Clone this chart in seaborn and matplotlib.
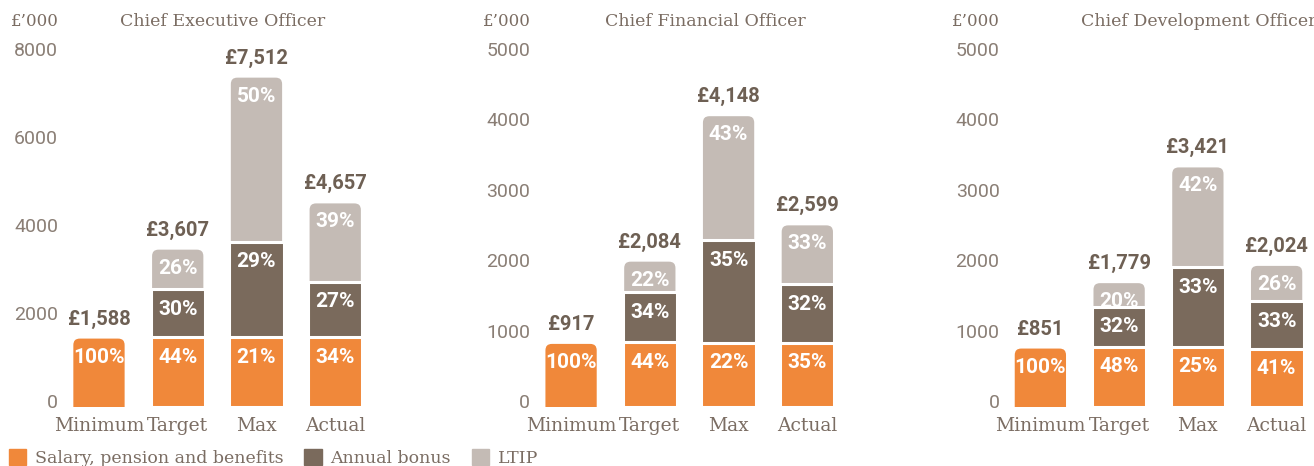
import matplotlib
matplotlib.use("Agg")
import matplotlib.pyplot as plt
import seaborn as sns
import pandas as pd
from matplotlib.patches import FancyBboxPatch, Patch
from matplotlib.transforms import ScaledTranslation

categories = ["Minimum", "Target", "Max", "Actual"]

# £'000 per element
ceo_salary = [1588, 1587, 1578, 1583]
ceo_bonus = [0, 1082, 2178, 1257]
ceo_ltip = [0, 938, 3756, 1817]
ceo_totals = ["£1,588", "£3,607", "£7,512", "£4,657"]
ceo_pct = [["100%", "44%", "21%", "34%"], ["", "30%", "29%", "27%"], ["", "26%", "50%", "39%"]]

cfo_salary = [917, 917, 912, 910]
cfo_bonus = [0, 709, 1452, 832]
cfo_ltip = [0, 458, 1784, 857]
cfo_totals = ["£917", "£2,084", "£4,148", "£2,599"]
cfo_pct = [["100%", "44%", "22%", "35%"], ["", "34%", "35%", "32%"], ["", "22%", "43%", "33%"]]

cdo_salary = [851, 854, 855, 830]
cdo_bonus = [0, 569, 1129, 668]
cdo_ltip = [0, 356, 1437, 526]
cdo_totals = ["£851", "£1,779", "£3,421", "£2,024"]
cdo_pct = [["100%", "48%", "25%", "41%"], ["", "32%", "33%", "33%"], ["", "20%", "42%", "26%"]]

legend_labels = ["Salary, pension and benefits", "Annual bonus", "LTIP"]

sns.set_theme(style="white")
plt.rcParams["font.family"] = ["DejaVu Serif"]

orange = "#f0883a"
brown = "#7a6a5c"
light = "#c4bbb5"
text_col = "#7b6d63"
tick_col = "#8a7e75"
total_col = "#6e6054"

W, H = 1314, 466
fig = plt.figure(figsize=(W / 100, H / 100), dpi=100)

panels = [
    ("Chief Executive Officer", ceo_salary, ceo_bonus, ceo_ltip, ceo_totals, ceo_pct, 8400, 2000, 8000),
    ("Chief Financial Officer", cfo_salary, cfo_bonus, cfo_ltip, cfo_totals, cfo_pct, 5250, 1000, 5000),
    ("Chief Development Officer", cdo_salary, cdo_bonus, cdo_ltip, cdo_totals, cdo_pct, 5250, 1000, 5000),
]
lefts = [59.6, 531.7, 1001.0]
title_x = [120, 605, 1081]
ax_w, ax_h, ax_b = 315.0, 370.0, 59.0

for k, (title, sal, bon, ltip, totals, pcts, ymax, step, ytop) in enumerate(panels):
    ax = fig.add_axes([lefts[k] / W, ax_b / H, ax_w / W, ax_h / H])
    df = pd.DataFrame({"cat": categories, "salary": sal, "bonus": bon, "ltip": ltip})
    df["mid"] = df["salary"] + df["bonus"]
    df["top"] = df["mid"] + df["ltip"]

    # stacked look: draw cumulative heights back to front
    for col, c in [("top", light), ("mid", brown), ("salary", orange)]:
        sns.barplot(data=df, x="cat", y=col, color=c, saturation=1, width=0.69,
                    errorbar=None, edgecolor="white", linewidth=2.2, ax=ax)

    ax.set_xlim(-0.5, 3.5)
    ax.set_ylim(0, ymax)
    px_x = ax_w / 4
    px_y = ax_h / ymax
    rx = 8 / px_x
    ry = 8 / px_y

    layers = [ltip, bon, sal]
    colors = [light, brown, orange]
    patches = list(ax.patches)
    for i in range(4):
        top_layer = next(l for l in range(3) if layers[l][i] > 0)
        for l in range(top_layer + 1):
            p = patches[l * 4 + i]
            if l < top_layer:
                p.remove()
                continue
            x, w, h = p.get_x(), p.get_width(), p.get_height()
            zo = p.get_zorder()
            p.remove()
            # rounded top segment, kept behind the square segments in front of it
            rp = FancyBboxPatch((x, -2 * ry), w, h + 2 * ry,
                                boxstyle=f"round,pad=0,rounding_size={rx}",
                                mutation_aspect=ry / rx, fc=colors[l], ec="white",
                                lw=2.2, zorder=zo - 0.5)
            ax.add_patch(rp)

    # percentage labels near the top of each segment
    seg_tops = [df["salary"], df["mid"], df["top"]]
    for s in range(3):
        for i in range(4):
            if pcts[s][i]:
                ax.annotate(pcts[s][i], (i, seg_tops[s][i]), xytext=(0, -20),
                            textcoords="offset pixels", ha="center", va="center",
                            color="white", fontweight="bold", fontsize=15, family="Roboto",
                            zorder=5)
    for i in range(4):
        ax.annotate(totals[i], (i, df["top"][i]), xytext=(0, 18),
                    textcoords="offset pixels", ha="center", va="center",
                    color=total_col, fontweight="bold", fontsize=14.5, family="Roboto")

    sns.despine(ax=ax, left=True, bottom=True)
    ax.set_xlabel("")
    ax.set_ylabel("")
    ax.set_yticks(range(0, ytop + 1, step))
    ax.tick_params(axis="y", length=0, pad=1, labelsize=14, labelcolor=tick_col)
    ax.tick_params(axis="x", length=0, pad=7, labelsize=13.5, labelcolor=text_col)
    shift = ScaledTranslation(0, 6 / 100, fig.dpi_scale_trans)
    for lab in ax.get_yticklabels():
        lab.set_transform(lab.get_transform() + shift)
        lab.set_family("Roboto")

    fig.text((lefts[k] - 1) / W, 1 - 22 / H, "£’000", ha="right", va="center",
             fontsize=12, color=text_col)
    fig.text(title_x[k] / W, 1 - 22 / H, title, ha="left", va="center",
             fontsize=12.5, color=text_col)

handles = [Patch(color=orange), Patch(color=brown), Patch(color=light)]
fig.legend(handles, legend_labels, loc="center left", bbox_to_anchor=(0.0, 1 - 458 / H),
           ncol=3, frameon=False, fontsize=12.5, labelcolor=text_col,
           handlelength=1.0, handleheight=1.0, handletextpad=0.5, columnspacing=1.2,
           borderpad=0.0, borderaxespad=0.5)

fig.savefig("out.png", dpi=100, facecolor="white")
